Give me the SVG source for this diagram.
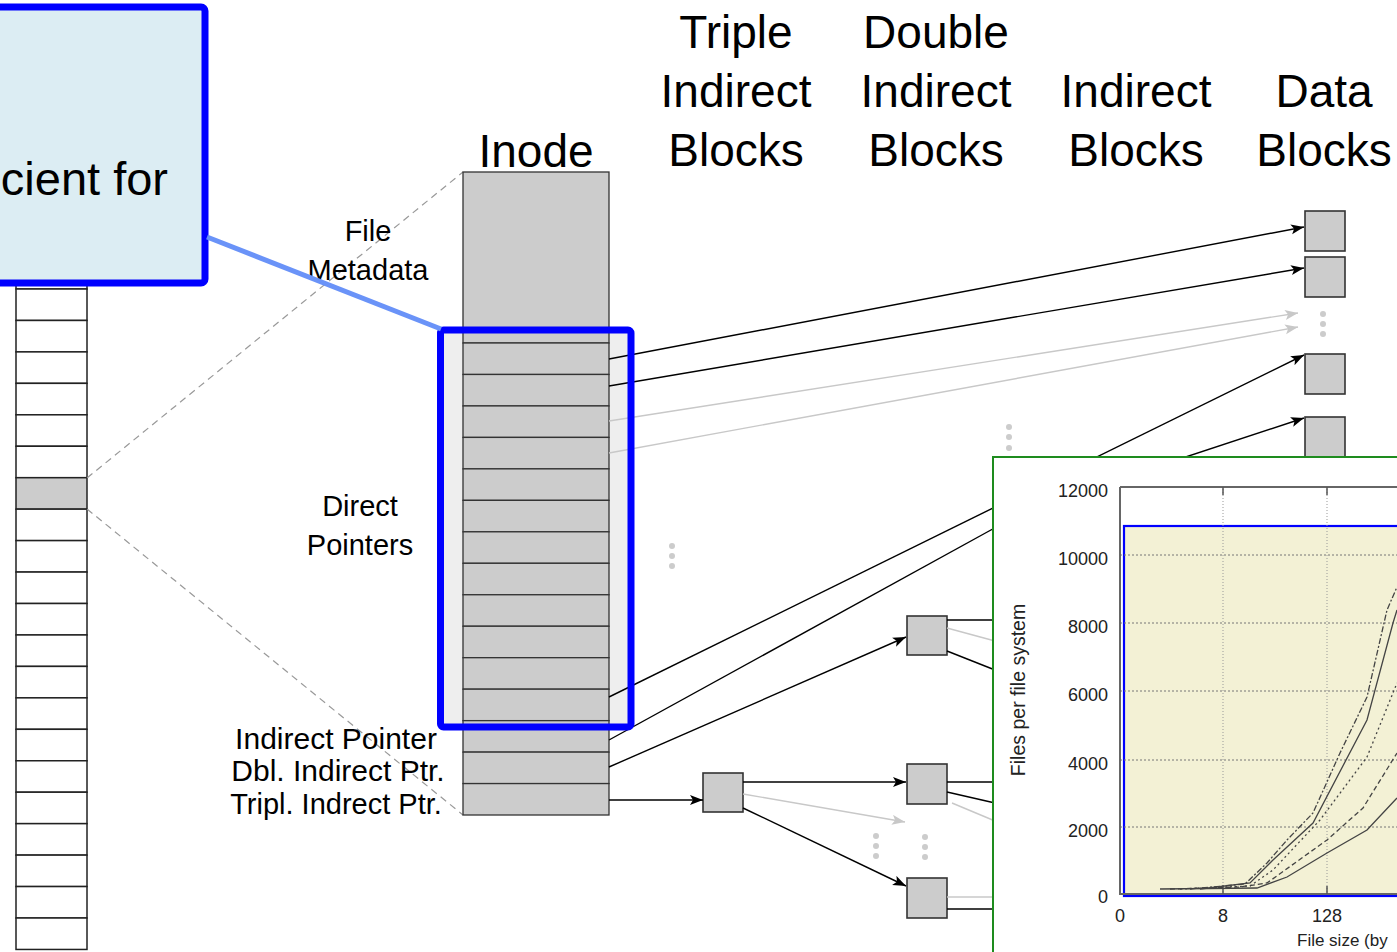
<svg xmlns="http://www.w3.org/2000/svg" width="1397" height="952" viewBox="0 0 1397 952">
<style>
.hdr{font-family:"Liberation Sans",Arial,sans-serif;font-size:46px;fill:#000;text-anchor:middle}
.lbl{font-family:"Liberation Sans",Arial,sans-serif;font-size:29px;fill:#000;text-anchor:middle}
.cell{fill:#CCCCCC;stroke:#333;stroke-width:1.3}
.wcell{fill:#FFFFFF;stroke:#222;stroke-width:1.5}
.blk{fill:#CCCCCC;stroke:#333;stroke-width:1.6}
.ln{stroke:#000;stroke-width:1.4;fill:none}
.gl{stroke:#C8C8C8;stroke-width:1.4;fill:none}
.dash{stroke:#999;stroke-width:1.2;stroke-dasharray:7 5;fill:none}
.dot{fill:#CCCCCC}
.ax{font-family:"Liberation Sans",Arial,sans-serif;font-size:18px;fill:#222}
.grid{stroke:#777;stroke-width:1;stroke-dasharray:2 2;fill:none}
.vgrid{stroke:#999;stroke-width:1;stroke-dasharray:1 2;fill:none}
.crv{fill:none;stroke:#444;stroke-width:1.3}
</style>
<defs>
<marker id="ah" markerUnits="userSpaceOnUse" markerWidth="14" markerHeight="12" refX="13" refY="5" orient="auto">
<path d="M0,0 L13,5 L0,10 L3,5 z" fill="#000"/>
</marker>
<marker id="ahg" markerUnits="userSpaceOnUse" markerWidth="14" markerHeight="12" refX="13" refY="5" orient="auto">
<path d="M0,0 L13,5 L0,10 L3,5 z" fill="#C8C8C8"/>
</marker>
</defs>
<rect x="0" y="0" width="1397" height="952" fill="#FFFFFF"/>

<g id="headers">
<text class="hdr" x="536" y="167">Inode</text>
<text class="hdr" x="736" y="48">Triple</text>
<text class="hdr" x="736" y="107">Indirect</text>
<text class="hdr" x="736" y="166">Blocks</text>
<text class="hdr" x="936" y="48">Double</text>
<text class="hdr" x="936" y="107">Indirect</text>
<text class="hdr" x="936" y="166">Blocks</text>
<text class="hdr" x="1136" y="107">Indirect</text>
<text class="hdr" x="1136" y="166">Blocks</text>
<text class="hdr" x="1324" y="107">Data</text>
<text class="hdr" x="1324" y="166">Blocks</text>
</g>

<g id="disk">
<rect class="wcell" x="16" y="280" width="71" height="9"/>
<rect class="wcell" x="16" y="289" width="71" height="31.45"/>
<rect class="wcell" x="16" y="320.45" width="71" height="31.45"/>
<rect class="wcell" x="16" y="351.9" width="71" height="31.45"/>
<rect class="wcell" x="16" y="383.35" width="71" height="31.45"/>
<rect class="wcell" x="16" y="414.8" width="71" height="31.45"/>
<rect class="wcell" x="16" y="446.25" width="71" height="31.45"/>
<rect class="cell" style="stroke:#222;stroke-width:1.5" x="16" y="477.7" width="71" height="31.45"/>
<rect class="wcell" x="16" y="509.15" width="71" height="31.45"/>
<rect class="wcell" x="16" y="540.6" width="71" height="31.45"/>
<rect class="wcell" x="16" y="572.05" width="71" height="31.45"/>
<rect class="wcell" x="16" y="603.5" width="71" height="31.45"/>
<rect class="wcell" x="16" y="634.95" width="71" height="31.45"/>
<rect class="wcell" x="16" y="666.4" width="71" height="31.45"/>
<rect class="wcell" x="16" y="697.85" width="71" height="31.45"/>
<rect class="wcell" x="16" y="729.3" width="71" height="31.45"/>
<rect class="wcell" x="16" y="760.75" width="71" height="31.45"/>
<rect class="wcell" x="16" y="792.2" width="71" height="31.45"/>
<rect class="wcell" x="16" y="823.65" width="71" height="31.45"/>
<rect class="wcell" x="16" y="855.1" width="71" height="31.45"/>
<rect class="wcell" x="16" y="886.55" width="71" height="31.45"/>
<rect class="wcell" x="16" y="918" width="71" height="31.45"/>
</g>

<g id="zoomlines">
<line class="dash" x1="87" y1="478" x2="463" y2="172"/>
<line class="dash" x1="87" y1="509" x2="463" y2="815"/>
</g>

<rect x="440.5" y="330" width="190.5" height="397" fill="#EEEEEE"/>

<g id="inode">
<rect class="cell" x="463" y="172" width="146" height="171"/>
<rect class="cell" x="463" y="343" width="146" height="31.47"/>
<rect class="cell" x="463" y="374.47" width="146" height="31.47"/>
<rect class="cell" x="463" y="405.94" width="146" height="31.47"/>
<rect class="cell" x="463" y="437.41" width="146" height="31.47"/>
<rect class="cell" x="463" y="468.88" width="146" height="31.47"/>
<rect class="cell" x="463" y="500.35" width="146" height="31.47"/>
<rect class="cell" x="463" y="531.82" width="146" height="31.47"/>
<rect class="cell" x="463" y="563.29" width="146" height="31.47"/>
<rect class="cell" x="463" y="594.76" width="146" height="31.47"/>
<rect class="cell" x="463" y="626.23" width="146" height="31.47"/>
<rect class="cell" x="463" y="657.7" width="146" height="31.47"/>
<rect class="cell" x="463" y="689.17" width="146" height="31.47"/>
<rect class="cell" x="463" y="720.64" width="146" height="31.47"/>
<rect class="cell" x="463" y="752.11" width="146" height="31.47"/>
<rect class="cell" x="463" y="783.58" width="146" height="31.42"/>
</g>

<g id="labels">
<text class="lbl" x="368" y="241">File</text>
<text class="lbl" x="368" y="280">Metadata</text>
<text class="lbl" x="360" y="516">Direct</text>
<text class="lbl" x="360" y="555">Pointers</text>
<text class="lbl" x="336" y="749" style="font-size:30px">Indirect Pointer</text>
<text class="lbl" x="338" y="781" style="font-size:30px">Dbl. Indirect Ptr.</text>
<text class="lbl" x="336" y="814">Tripl. Indrect Ptr.</text>
</g>

<g id="data-blocks">
<rect class="blk" x="1305" y="211" width="40" height="40"/>
<rect class="blk" x="1305" y="257" width="40" height="40"/>
<rect class="blk" x="1305" y="354" width="40" height="40"/>
<rect class="blk" x="1305" y="417" width="40" height="40"/>
</g>
<g id="triple-block">
<rect class="blk" x="703" y="773" width="40" height="39"/>
</g>
<g id="double-blocks">
<rect class="blk" x="907" y="616" width="40" height="39"/>
<rect class="blk" x="907" y="764" width="40" height="40"/>
<rect class="blk" x="907" y="878" width="40" height="40"/>
</g>

<g id="dots">
<circle class="dot" cx="672" cy="546" r="3"/><circle class="dot" cx="672" cy="556" r="3"/><circle class="dot" cx="672" cy="566" r="3"/>
<circle class="dot" cx="1009" cy="427" r="3"/><circle class="dot" cx="1009" cy="437" r="3"/><circle class="dot" cx="1009" cy="448" r="3"/>
<circle class="dot" cx="1323" cy="314" r="3"/><circle class="dot" cx="1323" cy="324" r="3"/><circle class="dot" cx="1323" cy="334" r="3"/>
<circle class="dot" cx="876" cy="836" r="3"/><circle class="dot" cx="876" cy="846" r="3"/><circle class="dot" cx="876" cy="856" r="3"/>
<circle class="dot" cx="925" cy="837" r="3"/><circle class="dot" cx="925" cy="847" r="3"/><circle class="dot" cx="925" cy="857" r="3"/>
</g>

<g id="connectors">
<line class="ln" x1="609" y1="359" x2="1304" y2="227" marker-end="url(#ah)"/>
<line class="ln" x1="609" y1="386" x2="1304" y2="268" marker-end="url(#ah)"/>
<line class="gl" x1="609" y1="421" x2="1298" y2="313" marker-end="url(#ahg)"/>
<line class="gl" x1="609" y1="453" x2="1298" y2="327" marker-end="url(#ahg)"/>
<line class="ln" x1="609" y1="697" x2="1304" y2="355" marker-end="url(#ah)"/>
<line class="ln" x1="609" y1="740" x2="1000" y2="525"/>
<line class="ln" x1="1040" y1="505" x2="1304" y2="418" marker-end="url(#ah)"/>
<line class="ln" x1="609" y1="767" x2="906" y2="637" marker-end="url(#ah)"/>
<line class="ln" x1="609" y1="800" x2="703" y2="800" marker-end="url(#ah)"/>
<line class="ln" x1="743" y1="782" x2="906" y2="782" marker-end="url(#ah)"/>
<line class="gl" x1="743" y1="794" x2="905" y2="822" marker-end="url(#ahg)"/>
<line class="ln" x1="743" y1="808" x2="906" y2="886" marker-end="url(#ah)"/>
<line class="ln" x1="947" y1="620" x2="995" y2="620"/>
<line class="gl" x1="947" y1="628" x2="995" y2="641"/>
<line class="ln" x1="947" y1="651" x2="995" y2="670"/>
<line class="ln" x1="947" y1="782" x2="995" y2="782"/>
<line class="ln" x1="947" y1="792" x2="995" y2="803"/>
<line class="gl" x1="952" y1="803" x2="995" y2="821"/>
<line class="gl" x1="947" y1="897" x2="995" y2="897"/>
<line class="ln" x1="947" y1="909" x2="995" y2="909"/>
</g>

<rect x="440.5" y="330" width="190.5" height="397" rx="3" fill="none" stroke="#0000FF" stroke-width="7"/>

<g id="callout">
<rect x="-20" y="7" width="225" height="276" rx="4" fill="#DCEDF3" stroke="#0000FF" stroke-width="7"/>
<text x="168" y="195" font-family="'Liberation Sans',Arial,sans-serif" font-size="47" fill="#000" text-anchor="end">cient for</text>
<line x1="207" y1="237" x2="441" y2="329" stroke="#6A93F8" stroke-width="5"/>
</g>

<g id="chart">
<rect x="993" y="457" width="420" height="510" fill="#FFFFFF" stroke="#1E8C1E" stroke-width="2"/>
<rect x="1124" y="526" width="290" height="370" fill="#F3F1D5" stroke="#0000FF" stroke-width="2.2"/>
<line class="vgrid" x1="1223" y1="489" x2="1223" y2="894"/>
<line class="vgrid" x1="1327" y1="489" x2="1327" y2="894"/>
<line class="grid" x1="1120" y1="555" x2="1397" y2="555"/>
<line class="grid" x1="1120" y1="623" x2="1397" y2="623"/>
<line class="grid" x1="1120" y1="691" x2="1397" y2="691"/>
<line class="grid" x1="1120" y1="760" x2="1397" y2="760"/>
<line class="grid" x1="1120" y1="827" x2="1397" y2="827"/>
<path d="M1120,487 L1397,487 M1120,487 L1120,894 L1397,894" fill="none" stroke="#666" stroke-width="2"/>
<path d="M1223,487 v8 M1327,487 v8 M1223,894 v-8 M1327,894 v-8" stroke="#555" stroke-width="1.5"/>
<path class="crv" d="M1160,889 L1257,888 L1287,877 L1327,853 L1367,830 L1397,798"/>
<path class="crv" stroke-dasharray="5 3" d="M1170,889 L1240,887 L1267,883 L1327,840 L1363,808 L1397,753"/>
<path class="crv" stroke-dasharray="2 3" d="M1180,889 L1250,886 L1273,870 L1320,820 L1367,757 L1397,683"/>
<path class="crv" stroke-dasharray="6 2 2 2" d="M1190,889 L1245,884 L1267,863 L1287,840 L1313,813 L1340,753 L1367,697 L1387,610 L1397,587"/>
<path class="crv" stroke="#888" stroke-width="1" d="M1200,889 L1250,883 L1273,860 L1313,823 L1367,720 L1393,623 L1397,610"/>
<text class="ax" x="1108" y="497" text-anchor="end">12000</text>
<text class="ax" x="1108" y="565" text-anchor="end">10000</text>
<text class="ax" x="1108" y="633" text-anchor="end">8000</text>
<text class="ax" x="1108" y="701" text-anchor="end">6000</text>
<text class="ax" x="1108" y="770" text-anchor="end">4000</text>
<text class="ax" x="1108" y="837" text-anchor="end">2000</text>
<text class="ax" x="1108" y="903" text-anchor="end">0</text>
<text class="ax" x="1120" y="922" text-anchor="middle">0</text>
<text class="ax" x="1223" y="922" text-anchor="middle">8</text>
<text class="ax" x="1327" y="922" text-anchor="middle">128</text>
<text class="ax" x="1297" y="946" style="font-size:17px">File size (by</text>
<text class="ax" transform="translate(1025,690) rotate(-90)" text-anchor="middle" style="font-size:19.5px">Files per file system</text>
</g>
</svg>
